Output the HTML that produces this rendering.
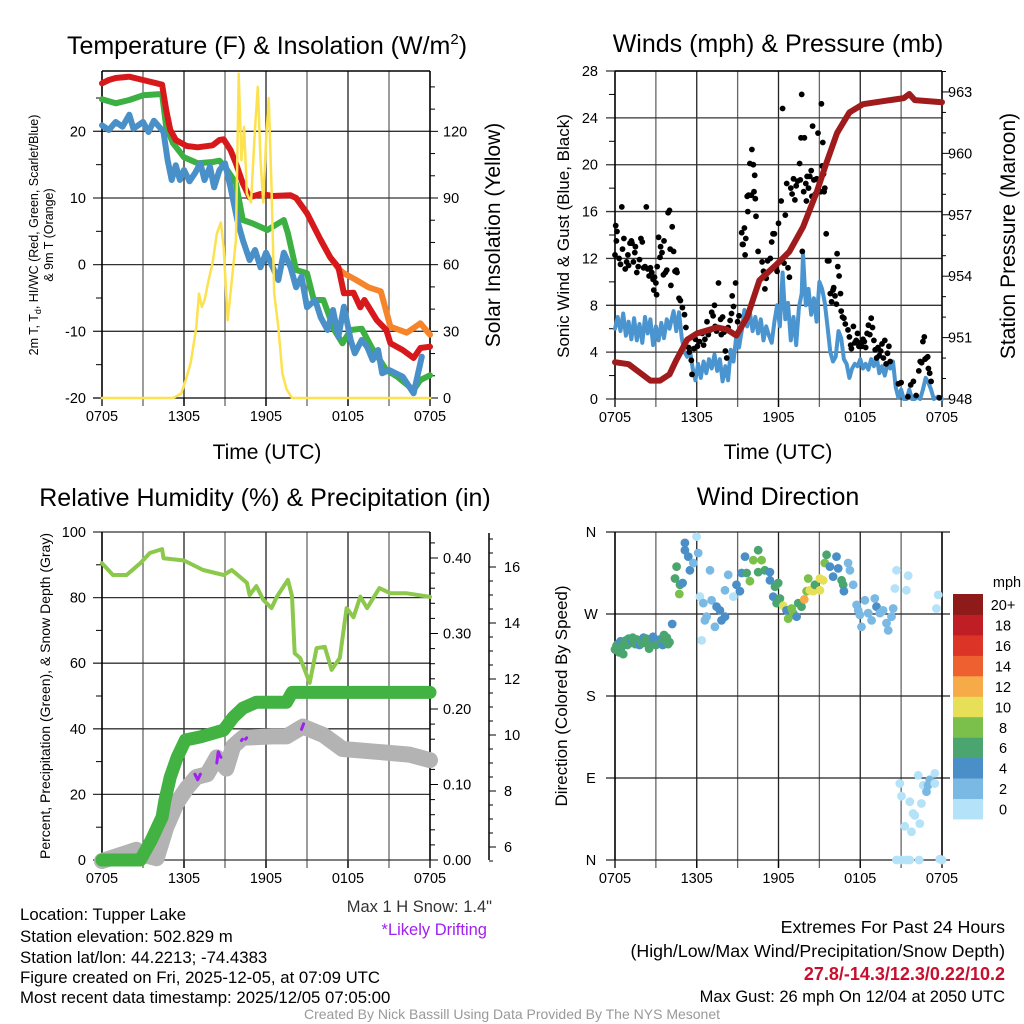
<!DOCTYPE html>
<html><head><meta charset="utf-8"><style>
html,body{margin:0;padding:0;background:#fff;}
svg{display:block;font-family:"Liberation Sans",Arial,sans-serif;}
</style></head><body>
<svg id="fig" width="1024" height="1024" viewBox="0 0 1024 1024" xmlns="http://www.w3.org/2000/svg">
<rect x="0" y="0" width="1024" height="1024" fill="#fff"/>
<text x="267" y="54" font-size="25" text-anchor="middle">Temperature (F) &amp; Insolation (W/m<tspan font-size="15" dy="-10">2</tspan><tspan dy="10">)</tspan></text>
<text x="778" y="52" font-size="25" text-anchor="middle">Winds (mph) &amp; Pressure (mb)</text>
<text x="265" y="506" font-size="25" text-anchor="middle">Relative Humidity (%) &amp; Precipitation (in)</text>
<text x="778" y="505" font-size="25" text-anchor="middle">Wind Direction</text>
<text x="267" y="459" font-size="21" text-anchor="middle">Time (UTC)</text>
<text x="778" y="459" font-size="21" text-anchor="middle">Time (UTC)</text>
<g font-size="12.5" text-anchor="middle">
<text transform="translate(38,235) rotate(-90)">2m T, T<tspan font-size="9" dy="3">d</tspan><tspan dy="-3">, HI/WC (Red, Green, Scarlet/Blue)</tspan></text>
<text transform="translate(53,235) rotate(-90)">&amp; 9m T (Orange)</text>
</g>
<text transform="translate(500,235) rotate(-90)" font-size="21" text-anchor="middle">Solar Insolation (Yellow)</text>
<text transform="translate(569,236) rotate(-90)" font-size="17" text-anchor="middle">Sonic Wind &amp; Gust (Blue, Black)</text>
<text transform="translate(1015,236) rotate(-90)" font-size="21" text-anchor="middle">Station Pressure (Maroon)</text>
<text transform="translate(50,696) rotate(-90)" font-size="14" text-anchor="middle">Percent, Precipitation (Green), &amp; Snow Depth (Gray)</text>
<text transform="translate(567,696) rotate(-90)" font-size="17" text-anchor="middle">Direction (Colored By Speed)</text>
<g font-size="16.8" fill="#000">
<text x="20" y="920">Location: Tupper Lake</text>
<text x="20" y="942">Station elevation: 502.829 m</text>
<text x="20" y="963">Station lat/lon: 44.2213; -74.4383</text>
<text x="20" y="983">Figure created on Fri, 2025-12-05, at 07:09 UTC</text>
<text x="20" y="1003">Most recent data timestamp: 2025/12/05 07:05:00</text>
</g>
<text x="492" y="912" font-size="16.5" fill="#333" text-anchor="end">Max 1 H Snow: 1.4"</text>
<text x="487" y="935" font-size="16.5" fill="#a020f0" text-anchor="end">*Likely Drifting</text>
<g font-size="17.8" text-anchor="end">
<text x="1005" y="933">Extremes For Past 24 Hours</text>
<text x="1005" y="957">(High/Low/Max Wind/Precipitation/Snow Depth)</text>
<text x="1005" y="980" fill="#c8102e" font-weight="bold" font-size="18">27.8/-14.3/12.3/0.22/10.2</text>
<text x="1005" y="1002" font-size="16.5">Max Gust: 26 mph On 12/04 at 2050 UTC</text>
</g>
<text x="512" y="1019" font-size="14" fill="#999" text-anchor="middle">Created By Nick Bassill Using Data Provided By The NYS Mesonet</text>
<g id="layer"></g>
</svg>
<script>
const tempRed = [[0,27.2],[0.5,27.7],[1,28],[2,28.2],[3,27.7],[4,27.2],[4.4,27],[4.7,23.2],[5.0,20.2],[5.4,18.7],[6.2,17.8],[7,17.6],[8.1,17.9],[8.6,18.7],[8.9,18.8],[9.4,17.2],[9.8,15.2],[10.3,12.2],[10.8,10.1],[11.6,10.6],[12.5,10.3],[13.8,10.4],[14.2,10],[15.0,7.7],[16.0,3.7],[16.7,1.1],[17.3,-0.4],[17.7,-4.3],[18.4,-4.2],[18.9,-6.4],[19.2,-5.3],[20.1,-8.3],[20.8,-9.8],[21.1,-11.8],[22.0,-12.8],[22.8,-14],[23.3,-12.5],[24,-12.3]];
const temp9m = [[16.0,3.7],[16.7,1.1],[17.3,-0.6],[17.7,-1.3],[18.6,-2.3],[19.5,-3.4],[20.4,-4.0],[21.1,-9.3],[22.3,-10.2],[23.3,-8.8],[24,-10.5]];
const heatWC = [[0,24.8],[1,24.2],[2,24.7],[3,25.4],[4.4,25.6],[4.7,20.7],[5.2,18.2],[6,16.1],[7,15.2],[8.1,15.4],[8.6,15.6],[9.2,14.1],[9.8,12.2],[10.3,6.7],[11,6.2],[12.1,5.2],[13.3,6.7],[13.6,4.7],[14.2,-0.8],[15.0,-1.3],[15.5,-5.3],[16.2,-5.3],[17,-9.8],[17.6,-11.8],[18.2,-9.8],[19,-9.6],[19.7,-12.3],[20.8,-15.8],[21.6,-16.8],[22.8,-18.8],[23.3,-17.3],[24,-16.6]];
const dewpt = [[0,20.9],[0.5,20.2],[1,21.4],[1.5,20.7],[2,22.5],[2.3,20.4],[3,21.4],[3.4,19.9],[3.8,21.6],[4.3,20.4],[4.5,19.9],[4.8,15.7],[5.1,12.7],[5.4,14.9],[5.7,12.7],[6,14.2],[6.4,12.5],[6.8,13.7],[7.2,15.2],[7.5,12.7],[7.9,14.7],[8.2,11.6],[8.6,14.2],[9,15.2],[9.4,11.6],[9.9,6.7],[10.3,3.7],[10.8,0.7],[11.2,2.2],[11.6,-0.4],[12,1.8],[12.5,-0.4],[12.9,-2.3],[13.3,1.8],[13.8,-0.4],[14.2,-3.4],[14.6,-1.8],[15,-6.4],[15.6,-5.3],[16,-7.9],[16.5,-9.8],[16.9,-6.8],[17.3,-10.8],[17.7,-6.3],[18.2,-11.3],[18.5,-13.3],[19,-11.3],[19.4,-12.3],[19.8,-14.3],[20.2,-12.8],[20.5,-16.3],[21,-15.8],[22,-16.8],[22.8,-19.3],[23.4,-13.8]];
const solar = [[0,0],[5.2,0],[5.8,2],[6.2,9.5],[6.5,16],[6.9,32],[7.1,47],[7.3,41],[7.5,44],[7.8,53],[8.1,61],[8.4,74],[8.7,79],[8.9,68],[9.2,35],[9.6,59],[9.8,71],[10.0,146],[10.2,107],[10.4,122],[10.6,92],[10.9,88],[11.2,122],[11.4,140],[11.6,107],[11.8,88],[12.0,115],[12.2,135],[12.4,95],[12.6,47],[12.9,32],[13.2,11],[13.5,4],[13.9,0],[24,0]];
const p1Ticks = [-20,-10,0,10,20];
const p1SolarTicks = [0,30,60,90,120];
const timeLabels = ['0705','1305','1905','0105','0705'];

const windSpd = [[0,6.0],[0.2,7.0],[0.4,5.8],[0.6,7.3],[0.8,5.4],[1.0,6.6],[1.2,5.1],[1.4,6.9],[1.6,5.0],[1.8,6.4],[2.0,4.8],[2.2,7.0],[2.4,5.6],[2.6,6.8],[2.8,4.6],[3.0,6.2],[3.2,5.0],[3.4,6.5],[3.6,5.2],[3.8,6.8],[4.0,6.0],[4.3,7.5],[4.5,5.8],[4.7,7.4],[4.9,5.2],[5.1,4.0],[5.3,3.6],[5.5,4.2],[5.7,2.6],[5.9,1.6],[6.1,3.0],[6.3,1.8],[6.5,3.2],[6.7,2.2],[6.9,3.4],[7.1,2.6],[7.3,3.8],[7.5,2.4],[7.7,3.4],[7.9,1.5],[8.1,2.8],[8.3,1.6],[8.5,4.2],[8.7,3.2],[8.9,5.4],[9.1,4.4],[9.3,5.8],[9.5,7.6],[9.7,6.2],[9.9,7.4],[10.1,5.8],[10.3,7.0],[10.5,5.6],[10.7,6.8],[10.9,5.0],[11.1,6.2],[11.3,5.4],[11.5,4.8],[11.7,6.6],[11.9,8.0],[12.1,6.2],[12.3,10.8],[12.5,6.8],[12.7,8.2],[12.9,5.0],[13.1,7.0],[13.3,4.6],[13.5,7.8],[13.7,9.0],[13.8,12.4],[14.0,8.0],[14.2,9.4],[14.4,7.2],[14.6,8.6],[14.8,6.6],[15.0,10.0],[15.2,9.4],[15.4,8.2],[15.6,6.2],[15.8,4.0],[16.0,3.2],[16.2,3.6],[16.4,5.8],[16.6,5.2],[16.8,3.4],[17.0,3.0],[17.2,1.8],[17.4,2.6],[17.6,3.0],[17.8,2.8],[18.0,3.4],[18.2,2.6],[18.4,3.0],[18.6,2.5],[18.8,3.4],[19.0,2.8],[19.2,3.6],[19.4,2.2],[19.6,2.8],[19.8,2.0],[20.0,3.0],[20.2,2.6],[20.4,3.2],[20.6,1.0],[20.8,0.1],[21.0,0.8],[21.2,0],[21.4,0],[21.6,0.8],[21.8,0],[22.0,0],[22.2,0.2],[22.4,0],[22.6,0.8],[22.8,1.8],[23.0,1.4],[23.2,0.8],[23.4,0],[23.7,0.2],[24,0]];
const gusts = [[0,12.3],[0.05,14.8],[0.1,13.5],[0.15,14.3],[0.3,12.0],[0.4,11.5],[0.5,16.4],[0.55,12.8],[0.65,13.7],[0.75,11.1],[0.85,11.7],[0.95,12.3],[1.0,11.4],[1.1,13.3],[1.2,13.5],[1.25,13.3],[1.35,11.7],[1.45,12.5],[1.5,13.0],[1.6,10.8],[1.7,11.3],[1.8,11.9],[1.9,13.7],[2.0,13.4],[2.1,11.2],[2.2,11.3],[2.3,16.4],[2.4,11.1],[2.5,10.5],[2.6,11.2],[2.7,10.8],[2.8,10.2],[2.85,9.3],[2.9,10.4],[3.0,9.9],[3.05,8.9],[3.1,11.3],[3.2,13.8],[3.3,12.1],[3.35,13.0],[3.45,12.5],[3.55,10.6],[3.6,13.5],[3.7,10.8],[3.8,11.0],[3.9,15.9],[4.0,16.1],[4.05,12.8],[4.1,9.7],[4.2,14.7],[4.3,12.6],[4.4,10.9],[4.5,11.0],[4.55,10.8],[4.7,8.6],[4.8,8.4],[4.95,7.8],[5.1,7.2],[5.2,6.1],[5.4,4.4],[5.45,4.0],[5.6,3.3],[5.65,2.1],[5.8,4.3],[5.9,5.1],[6.05,4.5],[6.2,4.9],[6.4,5.6],[6.5,4.6],[6.6,5.1],[6.75,6.6],[6.85,5.5],[7.0,5.9],[7.1,7.4],[7.2,7.1],[7.3,8.0],[7.35,6.2],[7.45,5.8],[7.6,9.9],[7.75,6.8],[7.8,5.5],[7.9,7.0],[8.0,5.7],[8.1,4.1],[8.2,3.5],[8.3,6.1],[8.45,6.7],[8.55,7.3],[8.6,8.8],[8.7,7.9],[8.85,9.9],[9.0,6.6],[9.1,7.1],[9.3,14.2],[9.35,13.2],[9.4,13.2],[9.5,14.6],[9.55,12.3],[9.6,13.7],[9.7,17.3],[9.75,16.0],[9.8,17.4],[9.9,20.1],[10.0,17.4],[10.05,21.3],[10.15,20.0],[10.2,17.7],[10.25,19.1],[10.3,17.1],[10.35,15.6],[10.5,12.6],[10.8,11.7],[10.9,10.9],[11.0,9.4],[11.1,10.3],[11.2,11.8],[11.3,10.9],[11.4,12.0],[11.5,13.4],[11.6,14.1],[11.7,14.1],[11.8,11.2],[11.9,10.9],[12.0,15.0],[12.1,11.8],[12.2,16.9],[12.3,24.8],[12.4,11.6],[12.5,15.7],[12.6,18.4],[12.7,11.2],[12.8,10.4],[12.9,18.0],[13.0,17.5],[13.1,18.8],[13.2,17.0],[13.3,18.2],[13.4,18.6],[13.55,20.1],[13.6,18.7],[13.65,22.3],[13.7,26.0],[13.75,12.6],[13.85,17.7],[13.9,22.3],[14.0,18.4],[14.05,16.9],[14.1,19.0],[14.2,18.0],[14.3,19.0],[14.4,19.5],[14.45,17.3],[14.5,23.3],[14.6,18.7],[14.7,17.5],[14.8,18.8],[14.9,22.7],[15.0,18.5],[15.1,17.7],[15.15,25.2],[15.2,19.9],[15.25,21.9],[15.3,19.2],[15.35,17.7],[15.4,18.0],[15.5,14.1],[15.6,11.8],[15.7,11.8],[15.8,9.0],[15.9,8.3],[16.0,9.3],[16.05,9.5],[16.15,8.8],[16.25,8.1],[16.3,12.4],[16.35,11.3],[16.45,10.5],[16.55,9.0],[16.6,7.5],[16.7,7.0],[16.8,6.9],[16.9,6.4],[17.1,5.9],[17.2,5.3],[17.3,4.6],[17.35,4.3],[17.5,6.2],[17.6,4.8],[17.7,5.0],[17.8,5.6],[17.9,4.5],[18.0,4.8],[18.1,4.5],[18.2,5.1],[18.3,4.9],[18.4,4.4],[18.5,5.6],[18.6,6.3],[18.7,5.5],[18.8,6.9],[18.9,6.1],[19.0,5.0],[19.1,4.2],[19.2,3.5],[19.3,4.4],[19.4,3.7],[19.5,4.1],[19.6,4.7],[19.7,3.5],[19.8,5.0],[19.9,3.0],[20.0,3.9],[20.1,4.5],[20.2,3.2],[20.8,1.3],[21.0,1.4],[21.5,0.2],[21.7,1.2],[21.9,1.5],[22.1,0.3],[22.3,2.4],[22.4,3.2],[22.5,3.1],[22.6,4.9],[22.7,5.3],[22.75,3.4],[22.85,3.5],[22.95,3.6],[23.0,2.6],[23.1,2.2],[23.2,1.5],[23.8,0.1]];
const pressure = [[0,949.8],[1,949.7],[1.8,949.3],[2.6,948.9],[3.3,948.9],[4.0,949.2],[4.5,949.9],[5.3,950.9],[6.0,951.2],[7.5,951.5],[8.2,951.4],[8.9,951.1],[9.7,952.0],[10.6,953.8],[11.9,954.6],[12.8,955.2],[13.8,956.4],[14.8,958.1],[15.5,959.5],[16.3,961.0],[17.2,962.0],[18.2,962.4],[20.2,962.6],[21.2,962.7],[21.6,962.9],[22.0,962.6],[24,962.5]];
const p2WindTicks = [0,4,8,12,16,20,24,28];
const p2PresTicks = [948,951,954,957,960,963];

const rh = [[0,90.5],[0.8,86.9],[1.8,86.9],[2.8,90.5],[3.5,93.6],[4.4,94.8],[4.5,92],[6.0,91.3],[7.4,88.4],[8.9,86.9],[9.5,88.4],[10.6,84.5],[10.8,80.8],[11.3,83.5],[11.8,79.3],[12.4,76.8],[12.8,80.3],[13.6,85.4],[13.9,80.5],[14.1,63],[14.5,61.6],[15.2,54],[15.7,64.6],[16.3,65],[16.8,58],[17.4,61.6],[17.9,76.8],[18.4,74],[18.9,80.3],[19.4,76.8],[20.3,82.9],[21.1,81.3],[22.3,81.3],[24,80.2]];
const precip = [[0,0],[2.8,0],[3.6,0.026],[4.4,0.057],[4.6,0.079],[5.0,0.11],[5.5,0.136],[6.1,0.159],[7.2,0.163],[8.9,0.172],[9.6,0.189],[10.3,0.201],[11.3,0.209],[13.5,0.209],[13.9,0.222],[24,0.222]];
const snowDepth = [[0,5.5],[2.5,5.9],[3.2,5.7],[4.0,5.6],[4.7,6.7],[5.5,7.6],[6.2,8.1],[6.9,8.5],[7.7,8.6],[8.4,9.2],[9.1,8.8],[9.6,9.6],[10.3,9.9],[12.5,9.95],[13.5,9.95],[14.7,10.3],[16.2,10.0],[17.6,9.5],[20.1,9.4],[22.5,9.3],[24,9.1]];
const drift = [[[2.9,5.9],[3.1,6.1]],[[6.8,8.6],[7.0,8.4],[7.2,8.6]],[[8.4,9.0],[8.5,9.4],[8.7,9.2]],[[10.2,9.8]],[[10.5,9.85]],[[14.6,10.2],[14.75,10.4]]];
const p3RhTicks = [0,20,40,60,80,100];
const p3PrecipTicks = [0.00,0.10,0.20,0.30,0.40];
const p3SnowTicks = [6,8,10,12,14,16];

const dirData = [[0,231,6],[0.1,235,7],[0.2,237,6],[0.3,228,6],[0.4,240,5],[0.5,234,7],[0.6,226,6],[0.7,239,6],[0.8,241,7],[0.9,236,6],[1.0,243,7],[1.1,238,6],[1.2,241,5],[1.3,244,7],[1.4,240,6],[1.5,237,6],[1.6,242,7],[1.7,239,6],[1.8,236,5],[1.9,241,6],[2.0,238,6],[2.1,244,5],[2.2,240,7],[2.3,243,6],[2.4,237,6],[2.5,232,6],[2.6,236,7],[2.7,239,6],[2.8,245,4],[2.9,241,5],[3.0,236,6],[3.2,238,6],[3.3,242,4],[3.4,239,6],[3.5,236,5],[3.6,247,6],[3.7,241,6],[3.8,244,7],[3.9,237,6],[4.0,239,6],
[4.2,259,4],[4.40,309,7],[4.52,322,6],[4.72,292,8],[4.77,302,6],[4.96,304,4],[5.13,348,4],[5.13,340,4],[5.38,333,4],[5.50,318,4],[5.75,326,3],[5.99,355,1],[6.11,337,2],[6.23,289,1],[6.36,241,1],[6.48,282,2],[6.60,263,2],[6.72,267,2],[6.97,318,2],[7.09,285,2],[7.33,256,2],[7.46,278,4],[7.70,274,4],[7.82,263,4],[8.07,267,4],[8.07,296,2],[8.31,313,2],[8.68,289,1],[8.92,302,4],[9.17,295,4],[9.29,315,4],[9.54,333,4],[9.66,315,6],[9.90,306,8],[10.15,329,8],[10.51,340,6],[10.51,316,6],[10.76,329,8],[11.00,318,6],[11.37,316,4],[11.37,307,4],[11.61,289,4],[11.74,300,6],[11.86,282,6],[11.98,304,6],[12.10,287,6],[12.35,279,10],[12.59,274,4],[12.71,265,8],[12.96,276,8],[13.08,271,8],[13.33,267,4],[13.45,282,6],[13.69,278,6],[13.89,286,12],[14.06,295,8],[14.18,309,8],[14.30,296,10],[14.55,295,10],[14.67,302,6],[15.04,309,10],[15.04,296,10],[15.28,307,10],[15.40,326,8],[15.53,335,6],[15.77,322,4],[16.01,311,4],[16.26,333,4],[16.38,320,4],[16.63,307,6],[16.75,302,6],[16.80,295,4],[17.11,326,2],[17.24,318,2],[17.48,302,2],[17.73,280,2],[17.85,274,2],[17.97,269,2],[18.09,256,2],[18.34,285,2],[18.58,271,2],[18.83,263,2],[19.07,287,2],[19.19,278,4],[19.44,271,2],[19.68,274,2],[19.93,260,2],[20.05,252,2],[20.29,267,2],[20.42,276,2],[20.66,318,0],[20.54,298,0],[21.39,296,0],[21.52,312,0],[20.90,84,0],[21.03,70,0],[21.27,37,0],[21.64,64,0],[21.76,31,0],[21.88,51,0],[22.00,49,0],[22.25,93,0],[22.37,40,0],[22.49,62,0],[22.62,82,0],[22.86,75,2],[22.98,82,2],[23.10,88,2],[23.47,95,0],[23.47,84,0],[23.59,276,0],[23.72,291,0],[20.66,0,0],[21.03,0,0],[21.39,0,0],[21.64,0,0],[22.32,0,0],[23.84,1,0],[24,0,0]];
const dirLabels = ['N','E','S','W','N'];
const speedColors = ['#b4e2f8','#7ab9e3','#4a8fc8','#4aa56f','#7cc04c','#e6df57','#f7aa48','#ef6030','#dc3426','#be1e24','#8e1a1a'];
const speedLabels = ['0','2','4','6','8','10','12','14','16','18','20+'];

const NS='http://www.w3.org/2000/svg';
const layer=document.getElementById('layer');
function mk(tag,attrs){const e=document.createElementNS(NS,tag);for(const k in attrs)e.setAttribute(k,attrs[k]);layer.appendChild(e);return e;}
const xA = t => 102 + t*13.667;
const xB = t => 615 + t*13.625;
const yT = v => 398 - (v+20)*6.667;
const yS = v => 398 - v*2.2222;
const yW = v => 399 - v*11.714;
const yP = p => 399 - (p-948)*20.47;
const yRH = v => 860 - v*3.28;
const yPr = p => 860 - p*755;
const ySn = s => 847 - (s-6)*28;
const yD = d => 860 - d*0.9111;
function pathOf(arr,xf,yf){return arr.map((p,i)=>(i?'L':'M')+xf(p[0]).toFixed(1)+','+yf(p[1]).toFixed(1)).join('');}

function line(x1,y1,x2,y2,c,w){return mk('line',{x1,y1,x2,y2,stroke:c,'stroke-width':w});}
function txt(x,y,s,anchor,size,fill){const e=mk('text',{x,y,'font-size':size||15,'text-anchor':anchor||'middle',fill:fill||'#000'});e.textContent=s;return e;}
[[102,430,71,398],[615,942,71,399],[102,430,532,860],[615,942,532,860]].forEach((b,pi)=>{
  for(let k=1;k<8;k++){const x=b[0]+(b[1]-b[0])*k/8;
    const g=line(x,b[2],x,b[3]+8,k%2?'#666':'#222',1.3);
    
    }
  for(let k=0;k<=8;k+=2){const x=b[0]+(b[1]-b[0])*k/8;
    const lb=txt(x,b[3]+23,timeLabels[k/2],'middle',14.5);
    
    
    const tk=line(x,b[3],x,b[3]+8,'#000',1.3);
    
    }
});
p1Ticks.forEach(v=>{const y=yT(v);
  const g=line(93,y,430,y,v===-20?'#000':'#333',1.3);
  
  
  const l=txt(86,y+5,String(v),'end',14.5);
  
  });
for(let v=-15;v<29;v+=10){const m=line(96,yT(v),102,yT(v),'#000',1);
  
  }
p1SolarTicks.forEach(v=>{const y=yS(v);
  const l=txt(443,y+5,String(v),'start',14.5);
  
  });
for(let v=0;v<=140;v+=10){const m=line(430,yS(v),v%30?435:438,yS(v),'#000',1);
  
  }
p2WindTicks.forEach(v=>{const y=yW(v);
  const g=line(606,y,942,y,'#333',1.3);
  
  
  const l=txt(598,y+5,String(v),'end',14.5);
  
  });
p2PresTicks.forEach(v=>{const l=txt(948,yP(v)+5,String(v),'start',14.5);
  
  });
for(let v=948;v<=964;v++){const m=line(942,yP(v),(v%3)?946:949,yP(v),'#000',1);
  
  }
for(let v=2;v<28;v+=4){const m=line(609,yW(v),615,yW(v),'#000',1);
  
  }
p3RhTicks.forEach(v=>{const y=yRH(v);
  const g=line(93,y,430,y,'#333',1.3);
  
  
  const l=txt(86,y+5,String(v),'end',14.5);
  
  });
for(let v=10;v<100;v+=20){const m=line(96,yRH(v),102,yRH(v),'#000',1);
  
  }
p3PrecipTicks.forEach(v=>{const l=txt(443,yPr(v)+5,v.toFixed(2),'start',14.5);
  
  });
for(let v=0;v<=0.43;v+=0.02){const m=line(430,yPr(v),(Math.round(v*100)%10)?435:438,yPr(v),'#000',1);
  
  }
const sa=line(489,533,489,860,'#000',1.5);


p3SnowTicks.forEach(v=>{const l=txt(504,ySn(v)+5,String(v),'start',14.5);
  
  });
for(let v=5.5;v<=17;v+=0.5){const m=line(489,ySn(v),(v%2)?493:496,ySn(v),'#000',1);
  
  }
[0,90,180,270,360].forEach((d,i)=>{const y=yD(d);
  const g=line(606,y,950,y,'#222',1.3);
  
  
  const l=txt(591,y+5,dirLabels[i],'middle',14.5);
  
  });
[[102,71,102,398],[430,71,430,398],[102,71,430,71],[615,71,615,399],[942,71,942,399],[615,71,942,71],[102,532,102,860],[430,532,430,860],[615,532,615,860],[942,532,942,860]].forEach(f=>{
  const l=line(f[0],f[1],f[2],f[3],'#000',1.6);
  
  });

function series(arr,xf,yf,color,w,name){const p=mk('path',{d:pathOf(arr,xf,yf),fill:'none',stroke:color,'stroke-width':w,'stroke-linejoin':'round','stroke-linecap':'round'});
  
  return p;}
series(heatWC,xA,yT,'#3cb043',6,'heat-index-wind-chill-line');
series(dewpt,xA,yT,'#4a90c8',6,'dewpoint-line');
series(temp9m,xA,yT,'#f5842a',6,'temp-9m-line');
series(tempRed,xA,yT,'#d7191c',6,'temp-2m-line');
series(solar,xA,yS,'#fde24f',2.5,'solar-insolation-line');

series(windSpd,xB,yW,'#4a94d0',4,'sonic-wind-line');
gusts.forEach(g=>{const c=mk('circle',{cx:xB(g[0]).toFixed(1),cy:yW(g[1]).toFixed(1),r:2.9,fill:'#000'});
  
  });
series(pressure,xB,yP,'#a01c1c',6,'pressure-line');

series(rh,xA,yRH,'#8cc84b',4,'relative-humidity-line');
series(snowDepth,xA,ySn,'#b3b3b3',16,'snow-depth-line');
drift.forEach(seg=>{series(seg.length>1?seg:[seg[0],[seg[0][0]+0.08,seg[0][1]+0.05]],xA,ySn,'#a020f0',3,'drifting-marker');});
series(precip,xA,yPr,'#42b243',13,'precipitation-line');

dirData.forEach(d=>{const idx=Math.min(10,Math.floor(d[2]/2));
  const c=mk('circle',{cx:xB(d[0]).toFixed(1),cy:yD(d[1]).toFixed(1),r:4.4,fill:speedColors[idx]});
  
  });
speedColors.forEach((c,i)=>{const y=819-(i+1)*20.45;
  const r=mk('rect',{x:953,y:y.toFixed(1),width:30,height:20.9,fill:c});
  
  
  const l=txt(1003,y+16,speedLabels[i],'middle',14.5);
  
  });
const mph=txt(1007,587,'mph','middle',14.5);


</script>
</body></html>
